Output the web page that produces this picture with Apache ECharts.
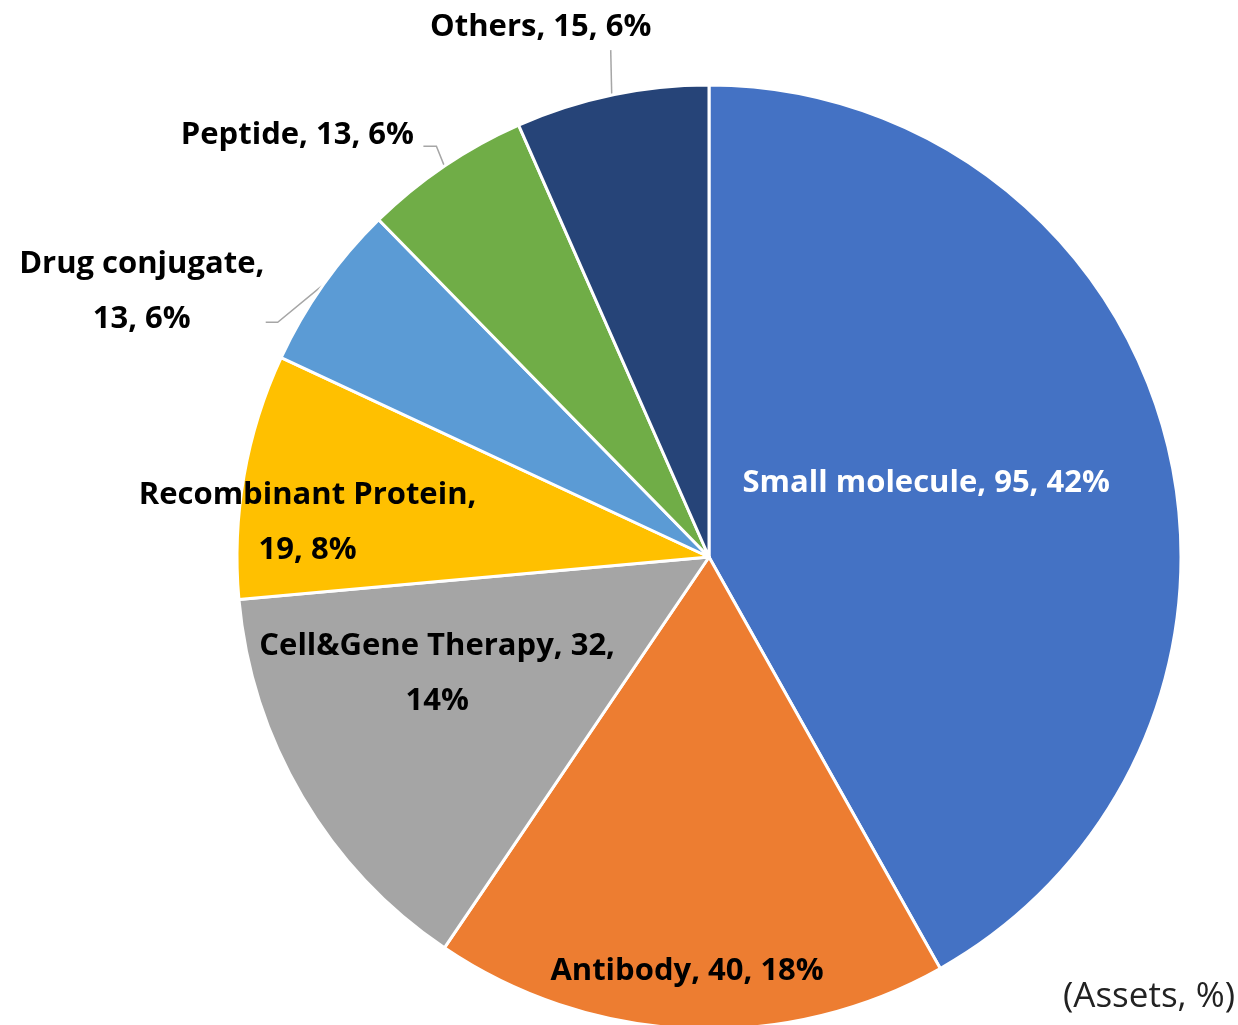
<!DOCTYPE html>
<html>
<head>
<meta charset="utf-8">
<script src="https://cdn.jsdelivr.net/npm/echarts@6/dist/echarts.min.js"></script>
<style>
  html, body { margin: 0; padding: 0; background: #fff; }
  #main { width: 1238px; height: 1025px; }
</style>
</head>
<body>
<div id="main"></div>
<script>
// data
const categories = ['Small molecule', 'Antibody', 'Cell&Gene Therapy', 'Recombinant Protein', 'Drug conjugate', 'Peptide', 'Others']
const assets = [95, 40, 32, 19, 13, 13, 15]
const shares = ['42%', '18%', '14%', '8%', '6%', '6%', '6%']
// label breaks after n parts (0 = one line)
const wrapAfter = [0, 0, 2, 1, 1, 0, 0]

const colors = ['#4472C4', '#ED7D31', '#A5A5A5', '#FFC000', '#5B9BD5', '#70AD47', '#264478']
const outside = [false, false, false, false, true, true, true]
// shift of label centre (from default inside spot, or from the line anchor for outside ones)
const labelShift = [[-14, -13], [-12, 175], [-66, -5], [-166, 7], [-182, 7], [-147, -31], [-71, -68]]
// leader line bends, relative to the anchor on the pie edge
const lineBends = [null, null, null, null, [[-46, 38], [-58, 38]], [[-8, -20], [-21, -20]], [[-1, -45]]]

const myChart = echarts.init(document.getElementById('main'))

const option = {
  animation: false,
  title: {
    text: '(Assets, %)',
    right: -2,
    bottom: 5,
    textStyle: {
      fontFamily: 'Open Sans',
      fontWeight: 'normal',
      fontSize: 35,
      color: '#222'
    }
  },
  series: [{
    type: 'pie',
    center: [709, 557],
    radius: 472,
    startAngle: 90,
    clockwise: true,
    avoidLabelOverlap: false,
    itemStyle: {
      borderColor: '#fff',
      borderWidth: 3
    },
    label: {
      fontFamily: 'Open Sans',
      fontWeight: 'bold',
      fontSize: 31,
      lineHeight: 55,
      color: '#000',
      formatter: (p) => {
        const parts = [p.name, assets[p.dataIndex], shares[p.dataIndex]]
        const n = wrapAfter[p.dataIndex]
        if (!n) return parts.join(', ')
        return parts.slice(0, n).join(', ') + ',\n' + parts.slice(n).join(', ')
      }
    },
    labelLine: {
      lineStyle: { color: '#A6A6A6', width: 1.5 }
    },
    labelLayout: (p) => {
      const i = p.dataIndex
      const s = labelShift[i]
      if (p.labelLinePoints && lineBends[i]) {
        const a = p.labelLinePoints[0]
        const pts = [a].concat(lineBends[i].map(d => [a[0] + d[0], a[1] + d[1]]))
        return { x: a[0] + s[0], y: a[1] + s[1], align: 'center', verticalAlign: 'middle', labelLinePoints: pts }
      }
      const r = p.labelRect
      return { x: r.x + r.width / 2 + s[0], y: r.y + r.height / 2 + s[1], align: 'center', verticalAlign: 'middle' }
    },
    data: categories.map((name, i) => ({
      name: name,
      value: assets[i],
      itemStyle: { color: colors[i] },
      label: {
        position: outside[i] ? 'outside' : 'inside',
        color: i === 0 ? '#fff' : '#000'
      },
      labelLine: { show: outside[i] }
    }))
  }]
}

myChart.setOption(option)
window.addEventListener('resize', () => myChart.resize())
</script>
</body>
</html>
